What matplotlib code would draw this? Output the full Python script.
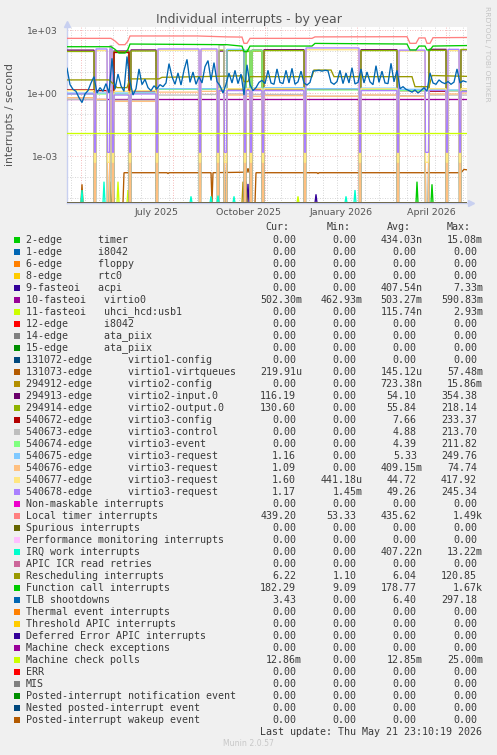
import numpy as np
import matplotlib
matplotlib.use("Agg")
import matplotlib.pyplot as plt
from matplotlib.patches import Rectangle
from datetime import date

# ---------------------------------------------------------------- data
START = date(2025, 4, 17)          # left edge of the 400-day window
NDAYS = 400

# legend (Munin palette order)
labels = [
    "2-edge      timer", "1-edge      i8042", "6-edge      floppy", "8-edge      rtc0",
    "9-fasteoi   acpi", "10-fasteoi   virtio0", "11-fasteoi   uhci_hcd:usb1",
    "12-edge      i8042", "14-edge      ata_piix", "15-edge      ata_piix",
    "131072-edge      virtio1-config", "131073-edge      virtio1-virtqueues",
    "294912-edge      virtio2-config", "294913-edge      virtio2-input.0",
    "294914-edge      virtio2-output.0", "540672-edge      virtio3-config",
    "540673-edge      virtio3-control", "540674-edge      virtio3-event",
    "540675-edge      virtio3-request", "540676-edge      virtio3-request",
    "540677-edge      virtio3-request", "540678-edge      virtio3-request",
    "Non-maskable interrupts", "Local timer interrupts", "Spurious interrupts",
    "Performance monitoring interrupts", "IRQ work interrupts", "APIC ICR read retries",
    "Rescheduling interrupts", "Function call interrupts", "TLB shootdowns",
    "Thermal event interrupts", "Threshold APIC interrupts",
    "Deferred Error APIC interrupts", "Machine check exceptions", "Machine check polls",
    "ERR", "MIS", "Posted-interrupt notification event",
    "Nested posted-interrupt event", "Posted-interrupt wakeup event",
]
colors = [
    "#00CC00", "#0066B3", "#FF8000", "#FFCC00", "#330099", "#990099", "#CCFF00",
    "#FF0000", "#808080", "#008F00", "#00487D", "#B35A00", "#B38F00", "#6B006B",
    "#8FB300", "#B30000", "#BEBEBE", "#80FF80", "#80C9FF", "#FFC080", "#FFE680",
    "#AA80FF", "#EE00CC", "#FF8080", "#666600", "#FFBFFF", "#00FFCC", "#CC6699",
    "#999900", "#00CC00", "#0066B3", "#FF8000", "#FFCC00", "#330099", "#990099",
    "#CCFF00", "#FF0000", "#808080", "#008F00", "#00487D", "#B35A00",
]
cur_vals = ["0.00", "0.00", "0.00", "0.00", "0.00", "502.30m", "0.00", "0.00", "0.00", "0.00",
            "0.00", "219.91u", "0.00", "116.19", "130.60", "0.00", "0.00", "0.00", "1.16", "1.09",
            "1.60", "1.17", "0.00", "439.20", "0.00", "0.00", "0.00", "0.00", "6.22", "182.29",
            "3.43", "0.00", "0.00", "0.00", "0.00", "12.86m", "0.00", "0.00", "0.00", "0.00", "0.00"]
min_vals = ["0.00", "0.00", "0.00", "0.00", "0.00", "462.93m", "0.00", "0.00", "0.00", "0.00",
            "0.00", "0.00", "0.00", "0.00", "0.00", "0.00", "0.00", "0.00", "0.00", "0.00",
            "441.18u", "1.45m", "0.00", "53.33", "0.00", "0.00", "0.00", "0.00", "1.10", "9.09",
            "0.00", "0.00", "0.00", "0.00", "0.00", "0.00", "0.00", "0.00", "0.00", "0.00", "0.00"]
avg_vals = ["434.03n", "0.00", "0.00", "0.00", "407.54n", "503.27m", "115.74n", "0.00", "0.00", "0.00",
            "0.00", "145.12u", "723.38n", "54.10", "55.84", "7.66", "4.88", "4.39", "5.33", "409.15m",
            "44.72", "49.26", "0.00", "435.62", "0.00", "0.00", "407.22n", "0.00", "6.04", "178.77",
            "6.40", "0.00", "0.00", "0.00", "0.00", "12.85m", "0.00", "0.00", "0.00", "0.00", "0.00"]
max_vals = ["15.08m", "0.00", "0.00", "0.00", "7.33m", "590.83m", "2.93m", "0.00", "0.00", "0.00",
            "0.00", "57.48m", "15.86m", "354.38", "218.14", "233.37", "213.70", "211.82", "249.76", "74.74",
            "417.92", "245.34", "0.00", "1.49k", "0.00", "0.00", "13.22m", "0.00", "120.85", "1.67k",
            "297.18", "0.00", "0.00", "0.00", "0.00", "25.00m", "0.00", "0.00", "0.00", "0.00", "0.00"]

# smooth-ish series: breakpoints (day, value)
local_timer_days = [0, 44, 48, 52, 58, 61, 63, 130, 160, 175, 177, 180, 183, 245, 248, 340, 343, 349, 352, 358, 360, 363, 366, 400]
local_timer_vals = [400, 400, 300, 200, 200, 300, 520, 520, 470, 460, 232, 232, 400, 400, 470, 480, 232, 232, 420, 420, 232, 232, 430, 440]
func_call_days = [0, 44, 48, 52, 58, 61, 63, 160, 175, 177, 180, 183, 245, 248, 340, 343, 349, 352, 358, 360, 363, 366, 400]
func_call_vals = [160, 160, 120, 80, 80, 120, 215, 200, 170, 93, 93, 172, 172, 230, 215, 112, 112, 172, 172, 112, 112, 172, 182]
resched_days = [0, 42, 47, 50, 60, 63, 92, 95, 175, 177, 181, 183, 245, 247, 264, 267, 345, 348, 362, 365, 400]
resched_vals = [4.2, 4.2, 2.5, 1.8, 1.8, 4.7, 4.7, 5.6, 6.5, 3.5, 3.5, 6.0, 6.0, 12.4, 12.4, 6.0, 6.0, 2.0, 2.0, 6.8, 6.2]
mcp_days = [0, 400]
mcp_vals = [0.0128, 0.0128]
virtio0_days = [0, 400]
virtio0_vals = [0.50, 0.50]
vq_days = [0, 14, 15, 16, 56, 57, 100, 101, 102, 144, 145, 146, 180, 181, 182, 183, 184, 188, 189, 250, 251, 252, 394, 397, 400]
vq_vals = [0, 0, 4.5e-5, 0, 0, 1.6e-4, 1.6e-4, 1.45e-4, 1.6e-4, 1.6e-4, 0, 1.6e-4, 1.7e-4, 2.6e-4,
           1.7e-4, 1.6e-4, 0, 0, 1.6e-4, 1.6e-4, 1.45e-4, 1.6e-4, 1.6e-4, 2.3e-4, 2.2e-4]

# TLB shootdowns, one value every 3 days
tlb_step = 3
tlb_vals = [15, 2.5, 1.5, 1.2, 0.6, 0.35, 0.9, 1.3, 3.0, 6.0,
            1.0, 1.8, 1.2, 2.8, 1.0, 45, 1.5, 8, 2.2, 1.2,
            55, 3.5, 0.8, 1.6, 14, 2.5, 4.5, 1.8, 1.3, 2.2,
            1.6, 2.5, 2.0, 3.0, 25, 6, 2.6, 9, 2.4, 12,
            40, 3.2, 10, 2.6, 6, 3.0, 18, 35, 4, 28,
            3.5, 2.2, 1.0, 2.6, 9, 3, 12, 2.8, 8, 0.8,
            22, 2.5, 1.3, 1.8, 3.2, 4, 2.8, 12, 3, 2.6,
            14, 3.2, 2.8, 12, 3, 15, 2.6, 3.4, 11, 3,
            2.4, 3.2, 11, 11.5, 12, 11, 12, 11.5, 3.2, 2.6,
            3.5, 12, 2.8, 9, 3, 16, 2.7, 3.2, 14, 3,
            10, 3.4, 2.5, 20, 3.2, 11, 3, 2.8, 26, 3.4,
            12, 1.6, 2, 1.5, 1.3, 1.1, 1.4, 1.0, 1.3, 1.8,
            1.2, 9, 3.0, 2.6, 4.2, 3.2, 2.8, 3.5, 2.6, 3.3,
            14, 3.0, 3.8, 3.4]

# virtio device periods (the IRQ numbering changes after every reboot)
seg_start = [0, 29, 43, 47, 64, 91, 134, 152, 160, 179, 185, 197, 239, 294, 332, 362, 381, 394]
seg_end = [27, 40, 45, 62, 89, 132, 150, 157, 177, 183, 195, 237, 292, 330, 358, 379, 392, 400]
v2_input_lvl = [110, 0, 0, 100, 112, 0, 0, 100, 115, 105, 110, 115, 0, 115, 0, 120, 0, 116]
v2_output_lvl = [95, 0, 0, 92, 100, 0, 0, 110, 105, 95, 100, 105, 0, 105, 0, 108, 0, 118]
v3_config_lvl = [1.4, 1.3, 1.3, 85, 1.2, 1.5, 1.5, 1.5, 1.4, 1.4, 1.4, 1.4, 1.5, 1.4, 1.3, 1.2, 1.3, 1.3]
v3_control_lvl = [0.5, 0.45, 180, 0.45, 0.45, 0.8, 0.85, 190, 0.9, 0.9, 0.85, 0.85, 0.7, 0.8, 0.75, 0.8, 0.8, 0.8]
v3_event_lvl = [0.9, 0.9, 0.9, 0.9, 1.0, 1.5, 1.5, 1.5, 1.6, 110, 110, 1.6, 1.4, 1.5, 1.3, 1.4, 1.3, 1.25]
v3_req75_lvl = [1.0, 1.0, 1.0, 1.0, 1.1, 1.6, 1.6, 1.7, 120, 1.7, 1.7, 1.8, 1.6, 1.7, 1.5, 1.5, 1.4, 1.2]
v3_req76_lvl = [0.6, 0.5, 0.45, 0.4, 0.4, 1.1, 1.2, 1.2, 0.8, 0.7, 0.7, 0.75, 0.7, 0.8, 0.7, 0.9, 0.9, 1.0]
v3_req77_lvl = [1.3, 105, 105, 1.2, 1.3, 110, 110, 1.6, 1.6, 1.6, 1.6, 1.6, 115, 1.6, 100, 1.6, 105, 1.6]
v3_req78_lvl = [0.9, 125, 125, 0.8, 0.9, 125, 125, 1.3, 1.3, 1.3, 1.3, 1.3, 140, 1.3, 110, 1.3, 120, 1.17]
gap_lvl = 0.0
gap_lvl_req77 = 0.0005      # these two never reach zero (Min column)
gap_lvl_req78 = 0.0015

# short spikes near the floor (day, peak)
timer_spike_days = [350, 365]
timer_spike_vals = [6e-5, 4.5e-5]
acpi_spike_days = [181, 249]
acpi_spike_vals = [4.7e-5, 1.5e-5]
uhci_spike_days = [51, 61, 231]
uhci_spike_vals = [6e-5, 2.4e-5, 1.2e-5]
v2cfg_spike_days = [43, 46, 176, 179]
v2cfg_spike_vals = [6e-5, 6e-5, 6e-5, 6e-5]
irqwork_spike_days = [15, 37, 124, 144, 151, 167, 279, 288]
irqwork_spike_vals = [2.4e-5, 6e-5, 1.2e-5, 1.2e-5, 1.3e-5, 1.2e-5, 1.2e-5, 2.4e-5]

# ---------------------------------------------------------------- helpers
def spikes(days, vals):
    x, y = [0], [0.0]
    for d, v in zip(days, vals):
        x += [d - 1, d, d + 1]
        y += [0.0, v, 0.0]
    x.append(NDAYS)
    y.append(0.0)
    return x, y


def segmented(levels, gap):
    x, y = [], []
    for i, (s, e) in enumerate(zip(seg_start, seg_end)):
        if i > 0:
            x += [seg_end[i - 1] + 0.5, s - 0.5]
            y += [gap, gap]
        x += [s, e]
        y += [levels[i], levels[i]]
    return x, y


zero = ([0, NDAYS], [0.0, 0.0])
series = [
    spikes(timer_spike_days, timer_spike_vals), zero, zero, zero,
    spikes(acpi_spike_days, acpi_spike_vals), (virtio0_days, virtio0_vals),
    spikes(uhci_spike_days, uhci_spike_vals), zero, zero, zero, zero,
    (vq_days, vq_vals), spikes(v2cfg_spike_days, v2cfg_spike_vals),
    segmented(v2_input_lvl, gap_lvl), segmented(v2_output_lvl, gap_lvl),
    segmented(v3_config_lvl, gap_lvl), segmented(v3_control_lvl, gap_lvl),
    segmented(v3_event_lvl, gap_lvl), segmented(v3_req75_lvl, gap_lvl),
    segmented(v3_req76_lvl, gap_lvl), segmented(v3_req77_lvl, gap_lvl_req77),
    segmented(v3_req78_lvl, gap_lvl_req78),
    zero, (local_timer_days, local_timer_vals), zero, zero,
    spikes(irqwork_spike_days, irqwork_spike_vals), zero,
    (resched_days, resched_vals), (func_call_days, func_call_vals),
    (list(np.arange(len(tlb_vals)) * tlb_step), tlb_vals),
    zero, zero, zero, zero, (mcp_days, mcp_vals), zero, zero, zero, zero, zero,
]

# ---------------------------------------------------------------- figure
W, H = 497, 755
BG = "#F0F0F0"
TXT = "#555555"
YMIN, YMAX = 10 ** -5.238, 10 ** 3.143

fig = plt.figure(figsize=(W / 100, H / 100), dpi=100, facecolor=BG)
ax = fig.add_axes([67 / W, 1 - 203 / H, 400 / W, 176 / H])
ax.set_facecolor("white")
ax.set_yscale("log")
ax.set_xlim(0, NDAYS)
ax.set_ylim(YMIN, YMAX)


def dnum(y, m, d):
    return (date(y, m, d) - START).days


# grid
for k in range(-5, 4):
    major = (k % 3 == 0)
    ax.axhline(10.0 ** k, color="#F2A0A0" if major else "#C8C8C8", lw=0.6,
               ls=(0, (1, 2)), zorder=1)
d = dnum(2025, 4, 21)
while d < NDAYS:
    ax.axvline(d, color="#C8C8C8", lw=0.6, ls=(0, (1, 2)), zorder=1)
    d += 14
for (yy, mm, dd) in [(2025, 5, 1), (2025, 8, 1), (2025, 11, 1), (2026, 2, 1), (2026, 5, 1)]:
    ax.axvline(dnum(yy, mm, dd), color="#F2A0A0", lw=0.6, ls=(0, (1, 2)), zorder=1)

for (x, y), c in zip(series, colors):
    yv = np.maximum(np.asarray(y, dtype=float), YMIN)
    ax.plot(x, yv, color=c, lw=0.95, zorder=3, solid_joinstyle="miter")

ax.set_yticks([1e-3, 1.0, 1e3])
ax.set_yticklabels(["1e-03", "1e+00", "1e+03"])
ax.yaxis.set_minor_locator(matplotlib.ticker.NullLocator())
lab_pos = [dnum(2025, 7, 16), dnum(2025, 10, 16), dnum(2026, 1, 16), dnum(2026, 4, 16)]
ax.set_xticks(lab_pos)
ax.set_xticklabels(["July 2025", "October 2025", "January 2026", "April 2026"])
ax.tick_params(axis="y", length=0, labelsize=6.6, colors=TXT, pad=6.5)
ax.tick_params(axis="x", length=0, labelsize=6.8, colors=TXT, pad=3.5)
for s in ("top", "right"):
    ax.spines[s].set_visible(False)
for s in ("left", "bottom"):
    ax.spines[s].set_color("#C8D0F0")
    ax.spines[s].set_linewidth(1.0)

# overlay in pixel coordinates for texts and legend
ov = fig.add_axes([0, 0, 1, 1])
ov.set_xlim(0, W)
ov.set_ylim(H, 0)
ov.axis("off")
ov.patch.set_alpha(0)

ov.plot([67], [24], marker="^", ms=4, color="#C8D0F0", clip_on=False)
ov.plot([471], [203], marker=">", ms=4, color="#C8D0F0", clip_on=False)

ov.text(248.5, 19, "Individual interrupts - by year", ha="center", va="center",
        fontsize=9, color=TXT, family="DejaVu Sans")
ov.text(10, 115, "interrupts / second", ha="center", va="center", rotation=90,
        fontsize=7.8, color=TXT, family="DejaVu Sans")
ov.text(487, 53.5, "RRDTOOL / TOBI OETIKER", ha="center", va="center", rotation=270,
        fontsize=5.4, color="#C4C4C4", family="DejaVu Sans")

MONO = "DejaVu Sans Mono"
FS = 7.2
ADV = FS * 100 / 72 * 0.602      # monospace advance in pixels
LTXT = "#3A3A3A"
hdr_right = [289.5, 350.5, 410.5, 470.5]
for xr, t in zip(hdr_right, ["Cur:", "Min:", "Avg:", "Max:"]):
    ov.text(xr - ADV * len(t), 227, t, ha="left", va="center", fontsize=FS, family=MONO, color=LTXT)

num_right = [296.2, 356.9, 416.9, 477.0]
for i, lab in enumerate(labels):
    yrow = 240 + 12 * i
    ov.add_patch(Rectangle((14, yrow - 3), 6, 6, facecolor=colors[i], edgecolor="none"))
    ov.text(26, yrow, lab, ha="left", va="center", fontsize=FS, family=MONO, color=LTXT)
    for xr, col in zip(num_right, (cur_vals, min_vals, avg_vals, max_vals)):
        v = col[i]
        nnum = len(v) - 1 if v[-1].isalpha() else len(v)
        ov.text(xr - ADV * nnum, yrow, v, ha="left", va="center", fontsize=FS,
                family=MONO, color=LTXT)

last = "Last update: Thu May 21 23:10:19 2026"
ov.text(483 - ADV * len(last), 731.7, last, ha="left", va="center",
        fontsize=FS, family=MONO, color=LTXT)
ov.text(248, 744, "Munin 2.0.57", ha="center", va="center", fontsize=5.6,
        color="#C8C8C8", family="DejaVu Sans")

fig.savefig("out.png", dpi=100, facecolor=BG)
